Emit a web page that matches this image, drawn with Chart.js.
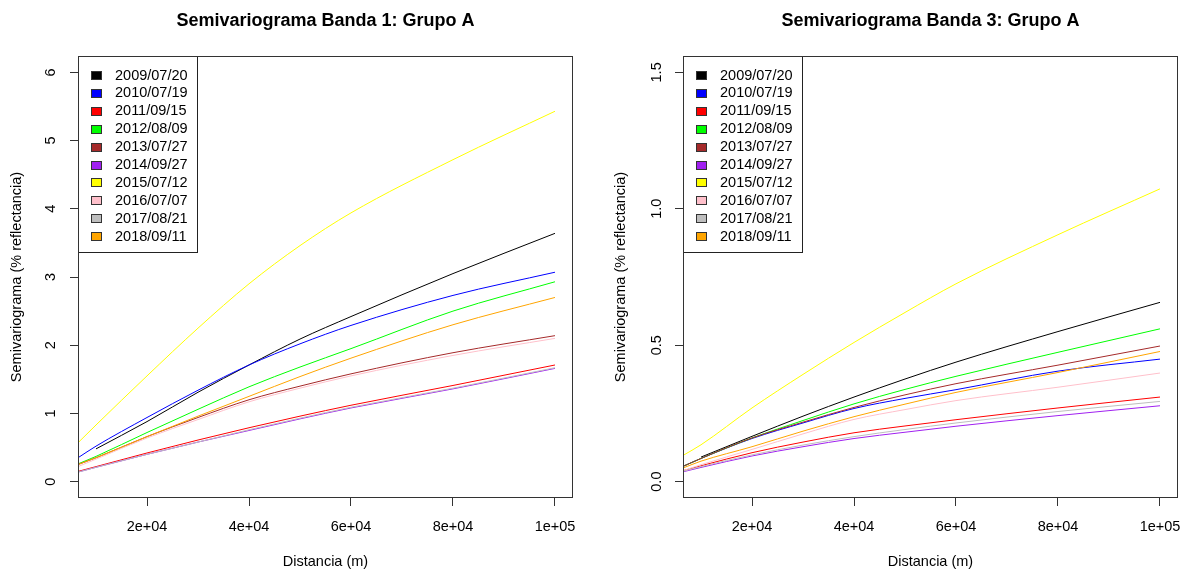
<!DOCTYPE html>
<html lang="es">
<head>
<meta charset="UTF-8">
<title>Semivariogramas Grupo A</title>
<script src="https://cdn.jsdelivr.net/npm/chart.js"></script>
<style>
  body { margin: 0; background: #fff; }
  .panel { position: absolute; top: 0; }
</style>
</head>
<body>
<canvas id="banda1" class="panel" width="592" height="569" style="left:0"></canvas>
<canvas id="banda3" class="panel" width="593" height="569" style="left:592px"></canvas>

<script>
// fechas de las imagenes y colores (orden de la leyenda)
const fechas = ['2009/07/20', '2010/07/19', '2011/09/15', '2012/08/09', '2013/07/27',
                '2014/09/27', '2015/07/12', '2016/07/07', '2017/08/21', '2018/09/11'];
const colores = ['#000000', '#0000FF', '#FF0000', '#00FF00', '#A52A2A',
                 '#A020F0', '#FFFF00', '#FFC0CB', '#BEBEBE', '#FFA500'];

// distancias (m) donde se leyeron los valores
const distancias = [6470, 10000, 20000, 30000, 40000, 50000, 60000, 80000, 100000];

// Banda 1
const b1_2009 = [null, 0.48, 0.88, 1.31, 1.71, 2.09, 2.42, 3.05, 3.64];
const b1_2010 = [0.35, 0.52, 0.94, 1.34, 1.71, 2.02, 2.29, 2.73, 3.07];
const b1_2011 = [0.15, 0.22, 0.42, 0.61, 0.79, 0.96, 1.12, 1.41, 1.71];
const b1_2012 = [0.26, 0.37, 0.72, 1.06, 1.39, 1.68, 1.95, 2.50, 2.93];
const b1_2013 = [0.25, 0.35, 0.66, 0.94, 1.20, 1.40, 1.58, 1.89, 2.14];
const b1_2014 = [0.14, 0.21, 0.40, 0.58, 0.75, 0.92, 1.08, 1.36, 1.66];
const b1_2015 = [0.57, 0.83, 1.55, 2.25, 2.90, 3.46, 3.94, 4.72, 5.43];
const b1_2016 = [0.22, 0.33, 0.64, 0.91, 1.17, 1.37, 1.55, 1.85, 2.10];
const b1_2017 = [0.14, 0.21, 0.40, 0.58, 0.76, 0.93, 1.09, 1.37, 1.67];
const b1_2018 = [0.25, 0.35, 0.66, 0.96, 1.25, 1.54, 1.81, 2.30, 2.70];

// Banda 3
const b3_2009 = [null, 0.090, 0.166, 0.240, 0.310, 0.376, 0.438, 0.550, 0.657];
const b3_2010 = [0.056, 0.085, 0.158, 0.215, 0.268, 0.305, 0.337, 0.405, 0.449];
const b3_2011 = [0.040, 0.058, 0.106, 0.145, 0.179, 0.204, 0.227, 0.270, 0.310];
const b3_2012 = [0.056, 0.085, 0.160, 0.224, 0.285, 0.338, 0.386, 0.474, 0.560];
const b3_2013 = [0.056, 0.085, 0.160, 0.218, 0.272, 0.318, 0.359, 0.427, 0.497];
const b3_2014 = [0.036, 0.052, 0.094, 0.128, 0.158, 0.181, 0.203, 0.242, 0.278];
const b3_2015 = [0.096, 0.135, 0.270, 0.393, 0.510, 0.620, 0.725, 0.905, 1.073];
const b3_2016 = [0.040, 0.062, 0.118, 0.175, 0.228, 0.264, 0.297, 0.346, 0.398];
const b3_2017 = [0.038, 0.055, 0.098, 0.134, 0.165, 0.191, 0.215, 0.257, 0.294];
const b3_2018 = [0.050, 0.075, 0.128, 0.185, 0.238, 0.284, 0.327, 0.400, 0.477];

// ejes
const xTicks = [20000, 40000, 60000, 80000, 100000];
const xTickLabels = ['2e+04', '4e+04', '6e+04', '8e+04', '1e+05'];
const yTicksB1 = [0, 1, 2, 3, 4, 5, 6];
const yTickLabelsB1 = ['0', '1', '2', '3', '4', '5', '6'];
const yTicksB3 = [0, 0.5, 1, 1.5];
const yTickLabelsB3 = ['0.0', '0.5', '1.0', '1.5'];

const fuente = "'Liberation Sans', Arial, sans-serif";

// marco alrededor del area de trazado (box() de R)
const marco = {
    id: 'marco',
    afterDraw(chart) {
        const { ctx, chartArea: a } = chart;
        ctx.save();
        ctx.strokeStyle = '#333';
        ctx.lineWidth = 1;
        ctx.strokeRect(Math.round(a.left) + 0.5, Math.round(a.top) + 0.5,
                       Math.round(a.right - a.left) - 1, Math.round(a.bottom - a.top) - 1);
        ctx.restore();
    }
};

// leyenda dentro del grafico, arriba a la izquierda
const leyenda = {
    id: 'leyenda',
    afterDatasetsDraw(chart) {
        const { ctx, chartArea: a } = chart;
        const sets = chart.data.datasets;
        ctx.save();
        ctx.font = '14.5px ' + fuente;
        let ancho = 0;
        sets.forEach(d => { ancho = Math.max(ancho, ctx.measureText(d.label).width); });
        const x0 = Math.round(a.left), y0 = Math.round(a.top);
        const w = Math.round(37 + ancho + 9), h = 196;
        ctx.fillStyle = '#fff';
        ctx.fillRect(x0, y0, w, h);
        ctx.strokeStyle = '#222';
        ctx.lineWidth = 1;
        ctx.strokeRect(x0 + 0.5, y0 + 0.5, w, h);
        sets.forEach((d, i) => {
            const yc = y0 + 19 + i * 17.9;
            const ry = Math.round(yc - 4) + 0.5;
            ctx.fillStyle = d.borderColor;
            ctx.fillRect(x0 + 13.5, ry, 10, 8);
            ctx.strokeStyle = '#333';
            ctx.strokeRect(x0 + 13.5, ry, 10, 8);
            ctx.fillStyle = '#000';
            ctx.textBaseline = 'middle';
            ctx.textAlign = 'left';
            ctx.fillText(d.label, x0 + 37, yc + 0.5);
        });
        ctx.restore();
    }
};

function crearGrafico(id, titulo, series, yTicks, yLabels, yMin, yMax, cfg) {
    const datasets = series.map((vals, i) => ({
        label: fechas[i],
        data: distancias.map((d, j) => ({ x: d, y: vals[j] })),
        borderColor: colores[i],
        backgroundColor: colores[i],
        borderWidth: 1,
        pointRadius: 0,
        cubicInterpolationMode: 'monotone',
        fill: false,
        order: series.length - i
    }));

    new Chart(document.getElementById(id), {
        type: 'line',
        data: { datasets: datasets },
        plugins: [marco, leyenda],
        options: {
            responsive: false,
            animation: false,
            events: [],
            layout: { padding: { left: 0, top: 0, right: cfg.derecha, bottom: 0 } },
            plugins: {
                legend: { display: false },
                tooltip: { enabled: false },
                title: {
                    display: true,
                    text: titulo,
                    fullSize: false,
                    color: '#000',
                    font: { family: fuente, size: 18, weight: 'bold', lineHeight: 1.2 },
                    padding: { top: 10, bottom: 24.4 }
                }
            },
            scales: {
                x: {
                    type: 'linear',
                    min: 6470,
                    max: 103530,
                    afterBuildTicks: s => { s.ticks = xTicks.map(v => ({ value: v })); },
                    afterFit: s => { s.height = 71; s.paddingLeft = 0; s.paddingRight = 0; },
                    ticks: {
                        autoSkip: false, minRotation: 0, maxRotation: 0, padding: 12,
                        color: '#000', font: { family: fuente, size: 14.5 },
                        callback: (v, i) => xTickLabels[i]
                    },
                    grid: { drawOnChartArea: false, drawTicks: true, tickLength: 8, color: '#333' },
                    border: { display: false },
                    title: {
                        display: true, text: 'Distancia (m)', color: '#000',
                        font: { family: fuente, size: 14.5, lineHeight: 1 },
                        padding: { top: 0, bottom: 0 }
                    }
                },
                y: {
                    type: 'linear',
                    min: yMin,
                    max: yMax,
                    afterBuildTicks: s => { s.ticks = yTicks.map(v => ({ value: v })); },
                    afterFit: s => { s.width = cfg.anchoY; s.paddingTop = 0; s.paddingBottom = 0; },
                    ticks: {
                        autoSkip: false, minRotation: 90, maxRotation: 90, crossAlign: 'center',
                        padding: cfg.padTicksY, color: '#000', font: { family: fuente, size: 14.5 },
                        callback: (v, i) => yLabels[i]
                    },
                    grid: { drawOnChartArea: false, drawTicks: true, tickLength: 8, color: '#333' },
                    border: { display: false },
                    title: {
                        display: true, text: 'Semivariograma (% reflectancia)', color: '#000',
                        font: { family: fuente, size: 14.5, lineHeight: 1 },
                        padding: { top: cfg.padTituloY, bottom: 0 }
                    }
                }
            }
        }
    });
}

crearGrafico('banda1', 'Semivariograma Banda 1: Grupo A',
    [b1_2009, b1_2010, b1_2011, b1_2012, b1_2013, b1_2014, b1_2015, b1_2016, b1_2017, b1_2018],
    yTicksB1, yTickLabelsB1, -0.24, 6.24,
    { derecha: 19, anchoY: 78, padTicksY: 14.5, padTituloY: 9.75 });

crearGrafico('banda3', 'Semivariograma Banda 3: Grupo A',
    [b3_2009, b3_2010, b3_2011, b3_2012, b3_2013, b3_2014, b3_2015, b3_2016, b3_2017, b3_2018],
    yTicksB3, yTickLabelsB3, -0.06, 1.56,
    { derecha: 7, anchoY: 91, padTicksY: 8.4, padTituloY: 21.5 });
</script>
</body>
</html>
